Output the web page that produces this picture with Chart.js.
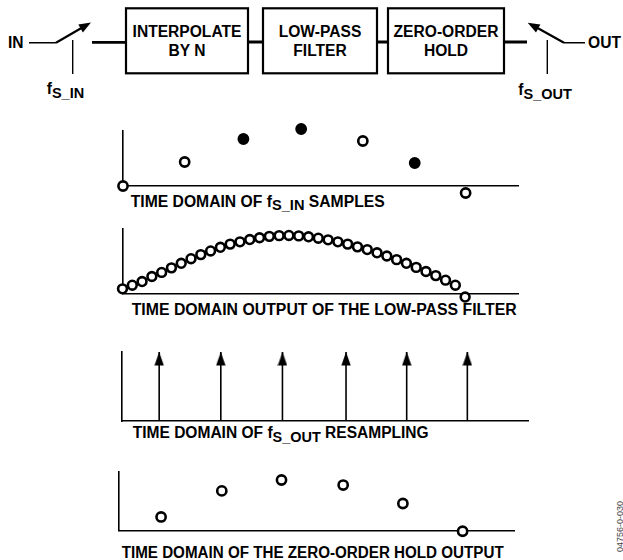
<!DOCTYPE html>
<html>
<head>
<meta charset="utf-8">
<script src="https://cdn.jsdelivr.net/npm/chart.js@4.4.0/dist/chart.umd.min.js"></script>
<style>
  html, body { margin: 0; padding: 0; background: #fff; }
  #page { position: relative; width: 623px; height: 560px; overflow: hidden; }
  #page svg, #page canvas { position: absolute; left: 0; top: 0; }
  svg text { font-family: "Liberation Sans", Arial, sans-serif; font-weight: bold; font-size: 15.6px; fill: #000; white-space: pre; }
</style>
</head>
<body>
<div id="page">
<svg width="623" height="560" viewBox="0 0 623 560">
  <g stroke="#000" fill="none">
    <rect x="126" y="8.3" width="122" height="65" stroke-width="2.2"/>
    <rect x="263" y="8.3" width="114" height="65" stroke-width="2.2"/>
    <rect x="388" y="8.3" width="116" height="65" stroke-width="2.2"/>
    <path d="M92 42.3H126M248 42H263M377 42H388M504 42H527" stroke-width="2.8"/>
    <path d="M29 42.7H56M72.7 40V74M564 42.7H585M547.3 40V74" stroke-width="1.4"/>
    <path d="M56 42.7L81 28.3M564 42.7L538 28.3" stroke-width="2.2"/>
  </g>
  <polygon points="91,22.5 82.85,32.4 78.35,24.6"/>
  <polygon points="527.7,22.7 540.4,24.6 536,32.4"/>

  <text x="8" y="47.5">IN</text>
  <text x="588" y="47.5">OUT</text>
  <text x="187" y="37.3" text-anchor="middle">INTERPOLATE</text>
  <text x="187" y="56.3" text-anchor="middle">BY N</text>
  <text x="320" y="37.3" text-anchor="middle">LOW-PASS</text>
  <text x="320" y="56.3" text-anchor="middle">FILTER</text>
  <text x="446" y="37.3" text-anchor="middle">ZERO-ORDER</text>
  <text x="446" y="56.3" text-anchor="middle">HOLD</text>
  <text x="46.7" y="93.5">f<tspan dy="4" font-size="14.5">S_IN</tspan></text>
  <text x="518.3" y="94.5">f<tspan dy="4" font-size="14.5">S_OUT</tspan></text>

  <text x="130.7" y="206.7" textLength="254" lengthAdjust="spacingAndGlyphs">TIME DOMAIN OF f<tspan dy="3.5" font-size="14.5">S_IN</tspan><tspan dy="-3.5"> SAMPLES</tspan></text>
  <text x="131.7" y="314.5" textLength="385" lengthAdjust="spacingAndGlyphs">TIME DOMAIN OUTPUT OF THE LOW-PASS FILTER</text>
  <text x="132.7" y="438.3" textLength="296" lengthAdjust="spacingAndGlyphs">TIME DOMAIN OF f<tspan dy="3.5" font-size="14.5">S_OUT</tspan><tspan dy="-3.5"> RESAMPLING</tspan></text>
  <text x="121.7" y="557.5" textLength="382" lengthAdjust="spacingAndGlyphs">TIME DOMAIN OF THE ZERO-ORDER HOLD OUTPUT</text>

  <text transform="translate(623,552) rotate(-90)" style="font-size:9px;font-weight:normal;fill:#444">04756-0-030</text>
</svg>
<canvas id="inSamples" width="623" height="100"></canvas>
<canvas id="filterOut" width="623" height="98"></canvas>
<canvas id="resample" width="623" height="88"></canvas>
<canvas id="holdOut" width="623" height="92"></canvas>
</div>
<script>
// f_S_IN samples (time in interpolated-sample steps, level in arbitrary units)
const inTime = [0, 6.3, 12.3, 18.2, 24.5, 29.8, 35.0];
const inLevel = [0, 24, 47, 57, 45, 23, -7];
const inFilled = [false, false, true, true, false, true, false];

// low-pass filter output, one point per interpolated step
const filterLevel = [5, 9, 13, 18.5, 23, 28, 33, 38, 42.5, 46.5, 50.5, 54, 56.5, 59, 61, 62.5,
  63.3, 63.5, 63, 62, 60.5, 58.7, 56.5, 54, 51, 48, 44.5, 41, 37, 33, 28.5, 24, 19.5, 14.5, 9, -4];
const filterTime = filterLevel.map((_, i) => i);

// f_S_OUT resampling instants
const outTime = [3.8, 10.1, 16.4, 22.9, 29.1, 35.3];
const arrowLevel = 69;

// zero-order hold output
const holdTime = [4.3, 10.5, 16.6, 22.9, 29.0, 35.1];
const holdLevel = [16, 47, 60, 54, 32, -1];

// where each little plot sits on the page
const frames = {
  inSamples: { top: 110, left: 123, right: 518, axisTop: 131, axisBottom: 186, xMax: 40.35, yMax: 55 },
  filterOut: { top: 212, left: 122.5, right: 518, axisTop: 223, axisBottom: 294, xMax: 40.4, yMax: 71 },
  resample: { top: 340, left: 122, right: 528, axisTop: 352, axisBottom: 421, xMax: 41.5, yMax: 69 },
  holdOut: { top: 455, left: 119, right: 514, axisTop: 468, axisBottom: 538, xMax: 40.35, yMax: 70 },
};

function axis(max) {
  return {
    type: "linear", min: 0, max: max, offset: false,
    grid: { display: false, drawTicks: false },
    ticks: { display: false },
    border: { display: true, color: "#000", width: 1.6 },
  };
}

function circles(xs, ys, fills, radius) {
  return {
    data: xs.map((x, i) => ({ x: x, y: ys[i] })),
    showLine: false,
    clip: false,
    pointRadius: radius,
    pointHoverRadius: 14,
    pointBorderWidth: 2.6,
    pointBorderColor: "#000",
    pointBackgroundColor: fills.map(f => (f ? "#000" : "#fff")),
  };
}

function drawPanel(id, datasets) {
  const canvas = document.getElementById(id);
  const f = frames[id];
  canvas.style.top = f.top + "px";
  new Chart(canvas, {
    type: "scatter",
    data: { datasets },
    options: {
      responsive: false,
      animation: false,
      devicePixelRatio: 1,
      events: [],
      layout: {
        padding: {
          left: f.left,
          right: 623 - f.right,
          top: f.axisTop - f.top,
          bottom: f.top + canvas.height - f.axisBottom,
        },
      },
      plugins: { legend: { display: false }, tooltip: { enabled: false } },
      scales: { x: axis(f.xMax), y: axis(f.yMax) },
    },
  });
}

// arrowhead with its tip at the image centre
const head = document.createElement("canvas");
head.width = 10;
head.height = 28;
const hc = head.getContext("2d");
hc.fillStyle = "#000";
hc.beginPath();
hc.moveTo(5, 14);
hc.lineTo(9.7, 27.5);
hc.lineTo(0.3, 27.5);
hc.closePath();
hc.fill();

drawPanel("inSamples", [circles(inTime, inLevel, inFilled, 4.6)]);

drawPanel("filterOut", [circles(filterTime, filterLevel, filterTime.map(() => false), 4.4)]);

drawPanel("resample", [
  ...outTime.map(t => ({
    data: [{ x: t, y: 0 }, { x: t, y: arrowLevel }],
    showLine: true,
    borderColor: "#000",
    borderWidth: 1.6,
    pointRadius: 0,
  })),
  {
    data: outTime.map(t => ({ x: t, y: arrowLevel })),
    clip: false,
    pointStyle: head,
    pointRadius: 5,
  },
]);

drawPanel("holdOut", [circles(holdTime, holdLevel, holdTime.map(() => false), 4.6)]);
</script>
</body>
</html>
